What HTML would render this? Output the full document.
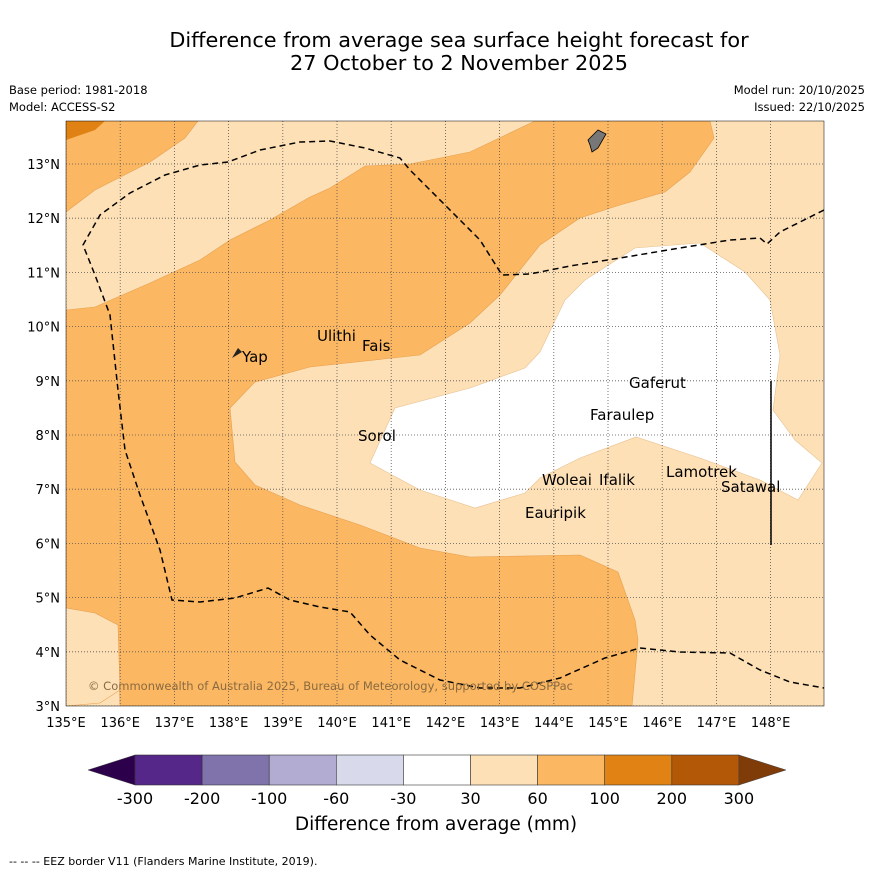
<!DOCTYPE html>
<html><head><meta charset="utf-8"><style>
body{margin:0;background:#fff;font-family:"Liberation Sans","DejaVu Sans",sans-serif}
</style></head><body>
<svg width="873" height="873" xmlns="http://www.w3.org/2000/svg" font-family="DejaVu Sans, Liberation Sans, sans-serif">
<rect width="873" height="873" fill="#fff"/>
<text x="459" y="47" font-size="20.8" text-anchor="middle">Difference from average sea surface height forecast for</text>
<text x="459" y="70" font-size="20.8" text-anchor="middle">27 October to 2 November 2025</text>
<text x="9" y="94" font-size="11.5">Base period: 1981-2018</text>
<text x="9" y="111" font-size="11.5">Model: ACCESS-S2</text>
<text x="865" y="94" font-size="11.5" text-anchor="end">Model run: 20/10/2025</text>
<text x="865" y="111" font-size="11.5" text-anchor="end">Issued: 22/10/2025</text>
<g>
<clipPath id="c"><rect x="66" y="121" width="758" height="585"/></clipPath>
<g clip-path="url(#c)">
<rect x="66" y="121" width="758" height="585" fill="#fde0b6"/>
<polygon fill="#fbb762" stroke="#e8a050" stroke-width="0.6" points="66,121 198,121 185,138 150,162 95,190 66,212"/>
<polygon fill="#e08213" points="66,121 105,121 95,130 66,140"/>
<polygon fill="#fbb762" stroke="#e8a050" stroke-width="0.6" points="66,310 95,307 150,283 200,260 230,240 270,220 310,197 330,188 365,166 410,164 470,152 535,121 710,121 714,138 690,172 665,192 620,205 580,218 540,245 500,295 470,323 420,355 310,367 255,382 230,408 235,462 255,485 300,505 360,525 420,548 470,557 580,555 618,572 635,620 638,640 632,706 120,706 118,625 95,613 66,608"/>
<polygon fill="#fde0b6" stroke="#e8a050" stroke-width="0.6" points="66,608 95,613 118,625 120,690 100,703 66,706"/>
<polygon fill="#ffffff" stroke="#e8c090" stroke-width="0.6" points="370,463 395,408 470,388 525,368 540,352 565,300 585,280 635,248 700,243 745,272 770,300 780,355 773,410 795,440 822,463 798,500 760,480 700,458 636,437 580,458 540,478 525,493 475,508 420,490"/>
<g id="grid" stroke="#555" stroke-width="0.8" stroke-dasharray="1,2"></g>
<polyline fill="none" stroke="#000" stroke-width="1.5" stroke-dasharray="6,4" points="824,210 800,222 780,232 767,244 760,238 730,240 680,248 620,258 570,266 530,274 502,275 480,240 450,210 410,170 400,158 365,148 330,141 300,142 260,150 228,162 200,165 165,175 130,193 100,215 83,245 95,275 110,315 118,390 125,450 140,495 160,550 172,600 200,602 235,598 268,588 290,600 320,607 350,612 370,635 400,660 440,680 480,688 520,688 560,678 605,658 640,648 680,652 730,653 760,670 790,682 824,688"/>
<line x1="771" y1="381" x2="771" y2="545" stroke="#000" stroke-width="1.5"/>
<polygon points="588,140 598,130 606,134 598,148 592,152 590,145" fill="#777" stroke="#000" stroke-width="0.8"/>
<polygon points="232,358 238,348 242,352" fill="#222"/>
</g>
<rect x="66" y="121" width="758" height="585" fill="none" stroke="#000" stroke-width="0.5"/>
<g font-size="15" fill="#000">
<text x="242" y="362">Yap</text><text x="317" y="341">Ulithi</text><text x="362" y="351">Fais</text>
<text x="629" y="388">Gaferut</text><text x="590" y="420">Faraulep</text><text x="358" y="441">Sorol</text>
<text x="542" y="485">Woleai</text><text x="599" y="485">Ifalik</text><text x="666" y="477">Lamotrek</text>
<text x="721" y="492">Satawal</text><text x="525" y="518">Eauripik</text>
</g>
<text x="88" y="690" font-size="11.5" textLength="485" fill="#8a6a40">© Commonwealth of Australia 2025, Bureau of Meteorology, supported by COSPPac</text>
<g id="ticks" font-size="13" fill="#000"></g>
</g>
<g id="cbar"></g>
<text x="436" y="830" font-size="18.5" text-anchor="middle">Difference from average (mm)</text>
<text x="9" y="865" font-size="11">--  --  -- EEZ border V11 (Flanders Marine Institute, 2019).</text>
</svg>
<script>
const lonTicks=[135,136,137,138,139,140,141,142,143,144,145,146,147,148];
const latTicks=[3,4,5,6,7,8,9,10,11,12,13];
const cbLabels=["-300","-200","-100","-60","-30","30","60","100","200","300"];
const cbColors=["#542788","#8073ac","#b2abd2","#d8daeb","#ffffff","#fee0b6","#fbb762","#e08214","#b35806"];
const ns="http://www.w3.org/2000/svg";
const xOf=lon=>66+(lon-135)*54.2, yOf=lat=>706-(lat-3)*54.2;
const grid=document.getElementById('grid'), ticks=document.getElementById('ticks'), cb=document.getElementById('cbar');
function mk(t,a,p){const e=document.createElementNS(ns,t);for(const k in a)e.setAttribute(k,a[k]);p.appendChild(e);return e;}
lonTicks.forEach(l=>{
 const g=mk('line',{x1:xOf(l),x2:xOf(l),y1:121,y2:706},grid);
 
 
 const t=mk('text',{x:xOf(l),y:727,'text-anchor':'middle'},ticks);t.textContent=l+'°E';
 
 
});
latTicks.forEach(l=>{
 const g=mk('line',{x1:66,x2:824,y1:yOf(l),y2:yOf(l)},grid);
 
 
 const t=mk('text',{x:60,y:yOf(l)+5,'text-anchor':'end'},ticks);t.textContent=l+'°N';
 
 
});
const cx0=135,cw=67.1,cy=755,ch=30;
const lt=mk('polygon',{points:`88,770 ${cx0},${cy} ${cx0},${cy+ch}`,fill:'#2d004b',stroke:'#444','stroke-width':0.5},cb);


cbColors.forEach((c,i)=>{
 const r=mk('rect',{x:cx0+i*cw,y:cy,width:cw,height:ch,fill:c,stroke:'#333','stroke-width':0.6},cb);
 
 
});
const xe=cx0+cbColors.length*cw;
const rt=mk('polygon',{points:`786,770 ${xe},${cy} ${xe},${cy+ch}`,fill:'#7f3b08',stroke:'#444','stroke-width':0.5},cb);


cbLabels.forEach((s,i)=>{
 const t=mk('text',{x:cx0+i*cw,y:804,'text-anchor':'middle','font-size':16},cb);t.textContent=s;
 
 
});
</script>
</body></html>
